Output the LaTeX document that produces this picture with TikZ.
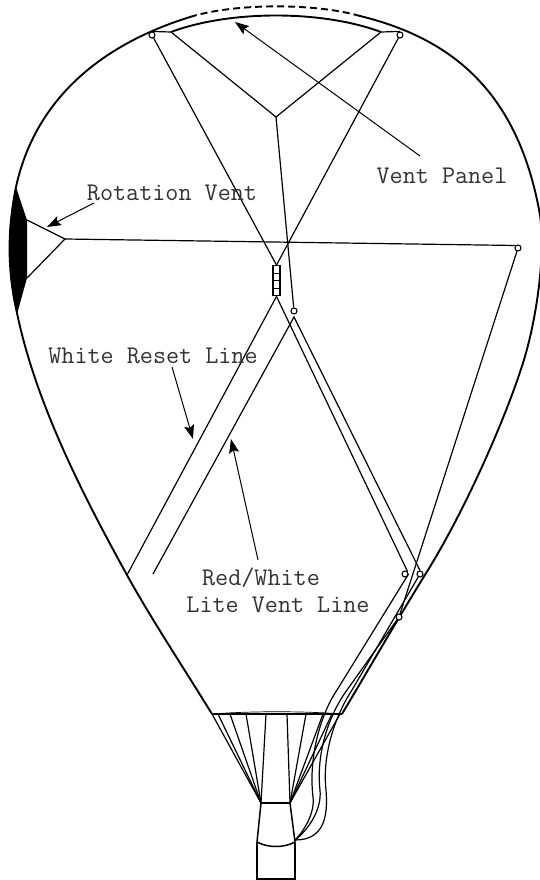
\documentclass[tikz,border=0pt]{standalone}
\usepackage{fontspec}
\usetikzlibrary{arrows.meta}
\definecolor{BLInk}{HTML}{000000}
\definecolor{BLText}{HTML}{333333}
\tikzset{
  shell/.style={BLInk,line width=1.9pt,line join=round},
  rope/.style={BLInk,line width=1.2pt},
  rim/.style={BLInk,line width=1.5pt},
  pointer/.style={-{Stealth[length=14pt,width=10pt,inset=2.5pt]},BLInk,line width=1.0pt},
  pulley/.style={circle,draw=BLInk,line width=1.1pt,fill=white,inner sep=0pt,minimum size=6pt},
  cell/.style={rectangle,draw=BLInk,line width=1.4pt,fill=white,inner sep=0pt,minimum width=7pt,minimum height=7.5pt},
  tag/.style={text=BLText,inner sep=0pt,font=\ttfamily\fontsize{25.4}{27}\selectfont},
}
\begin{document}
\begin{tikzpicture}[x=1pt,y=-1pt]
    \useasboundingbox (0,0) rectangle (540,880);
    \clip (0,0) rectangle (540,880);

    % envelope
    \draw[shell] (190,17) .. controls (100,45) and (35,100) .. (16,187)
      .. controls (8,225) and (8,275) .. (17,313)
      .. controls (35,400) and (80,490) .. (127,575)
      .. controls (150,617) and (185,670) .. (212,714);
    \draw[shell] (360,16) .. controls (450,38) and (518,90) .. (540,215)
      .. controls (546,260) and (535,325) .. (523,363)
      .. controls (505,420) and (465,510) .. (428,570)
      .. controls (400,615) and (370,667) .. (342,714);
    \draw[shell,dashed,dash pattern=on 7pt off 4pt] (190,17) .. controls (235,3) and (315,3) .. (360,16);

    % vent panel
    \coordinate (panelL) at (171,32);
    \coordinate (panelR) at (381,32);
    \coordinate (crown) at (276,117);
    \draw[shell] (panelL) .. controls (230,10) and (322,10) .. (panelR);
    \node[pulley] (pullTL) at (152,35) {};
    \node[pulley] (pullTR) at (400,35) {};
    \draw[rope] (pullTL.north) -- (panelL) -- (crown) -- (panelR) -- (pullTR.north);

    % rotation vent
    \fill[BLInk] (16,187) .. controls (6,225) and (6,275) .. (17,314) -- (27,278) -- (27,220) -- cycle;
    \coordinate (rotA) at (27,220);
    \coordinate (rotB) at (27,278);
    \coordinate (rotC) at (65,239);
    \node[pulley] (pullRot) at (518,248) {};
    \draw[rope] (rotA) -- (rotC) -- (rotB);
    \draw[rope] (rotC) -- (pullRot.north west);

    % link block
    \foreach \i in {1,...,4}
      \node[cell] (link\i) at (276.5,{262+\i*7.5}) {};
    \draw[rope] (pullTL) -- (link1.north);
    \draw[rope] (pullTR) -- (link1.north);

    % lower lines
    \node[pulley] (pullC) at (294,311) {};
    \node[pulley] (pullL) at (405,574) {};
    \node[pulley] (pullM) at (420,574) {};
    \node[pulley] (pullK) at (399,617) {};
    \coordinate (resetEnd) at (127,575);
    \coordinate (liteEnd) at (153,574);
    \coordinate (fork) at (294,317);
    \draw[rope] (crown) -- (pullC);
    \draw[rope] (link4.south) -- (resetEnd);
    \draw[rope] (link4.south) -- (pullL.north east);
    \draw[rope] (liteEnd) -- (fork) -- (pullM.north);
    \draw[rope] (pullRot) -- (pullK);

    % lines into the burner frame
    \coordinate (lineEnd) at (295,840);
    \draw[rope] (pullL.east) -- (337,690) .. controls (322,712) and (308,755) .. (313,797)
      .. controls (315,812) and (305,830) .. (lineEnd);
    \draw[rope] (pullK) -- (347,690) .. controls (328,716) and (316,755) .. (320,790)
      .. controls (322,810) and (308,830) .. (lineEnd);
    \draw[rope] (pullM) -- (352,690) .. controls (335,716) and (322,755) .. (326,790)
      .. controls (328,815) and (325,840) .. (lineEnd);

    % mouth ring and flying wires
    \coordinate (ringL) at (212,714);
    \coordinate (ringR) at (342,714);
    \coordinate (barL) at (261,803);
    \coordinate (barR) at (290,803);
    \draw[rim] (ringL) -- (ringR);
    \draw[rope,line width=.7pt] (ringL) .. controls (250,711) and (304,711) .. (ringR);
    \foreach \x in {212,218,230,246,266}
      \draw[rope] (\x,714) -- (barL);
    \foreach \x in {287,306,323,332,340}
      \draw[rope] (\x,714) -- (barR);

    % burner and basket
    \coordinate (basketL) at (257,842);
    \coordinate (basketR) at (295,842);
    \draw[rim] (barL) -- (barR);
    \draw[rim] (barL) -- (basketL);
    \draw[rim] (barR) -- (basketR);
    \draw[rim] (basketL) .. controls (268,848) and (284,848) .. (basketR);
    \draw[rim] (basketL) -- (257,879) -- (295,879) -- (basketR);

    % labels
    \node[tag] (rotLabel) at (172,193) {Rotation Vent};
    \node[tag] (panelLabel) at (442,176) {Vent Panel};
    \node[tag] (resetLabel) at (153,356) {White Reset Line};
    \node[tag] (redLabel) at (261,578) {Red/White};
    \node[tag] (liteLabel) at (278,605) {Lite Vent Line};

    \coordinate (rotTail) at (94,203);
    \coordinate (rotTip) at (47,227);
    \coordinate (panelTail) at (420,156);
    \coordinate (panelTip) at (235,22);
    \coordinate (resetTail) at (172,367);
    \coordinate (resetTip) at (193,439);
    \coordinate (redTail) at (258,560);
    \coordinate (redTip) at (231,439);
    \draw[pointer] (rotTail) -- (rotTip);
    \draw[pointer] (panelTail) -- (panelTip);
    \draw[pointer] (resetTail) -- (resetTip);
    \draw[pointer] (redTail) -- (redTip);
\end{tikzpicture}
\end{document}
